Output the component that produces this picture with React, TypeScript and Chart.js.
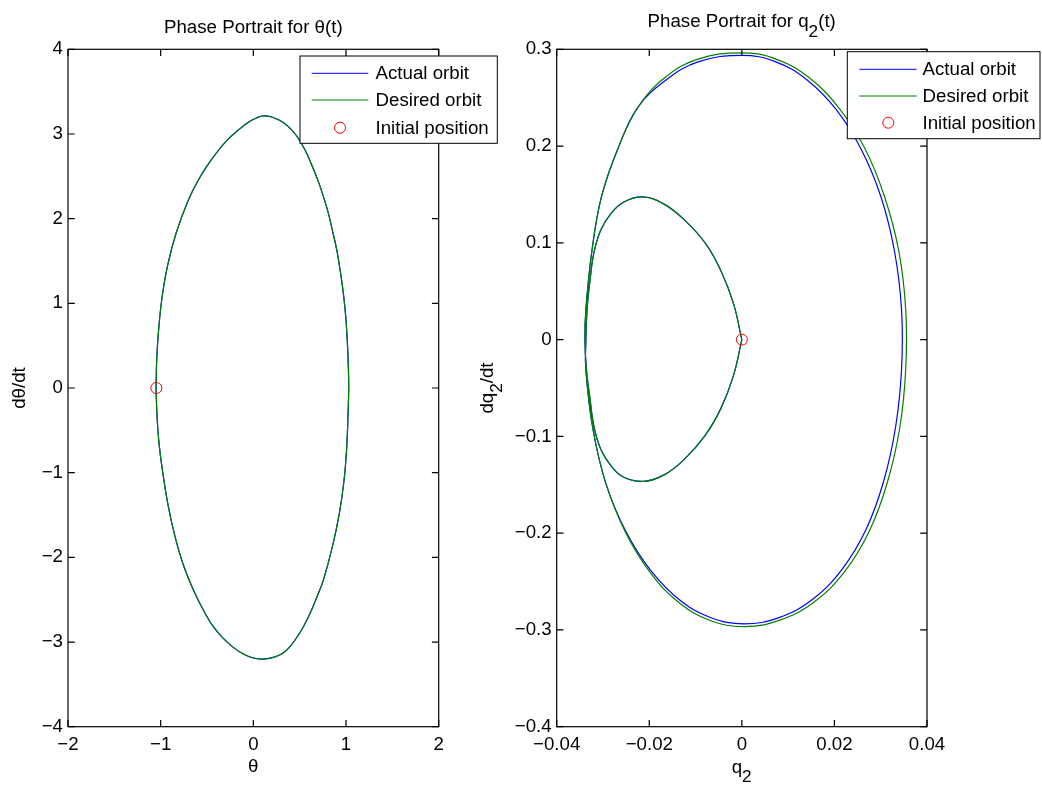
import React, { useEffect, useRef } from "react";
import { Chart, registerables } from "chart.js";

Chart.register(...registerables);

const FONT = '"Liberation Sans", Arial, Helvetica, sans-serif';
const W = 1042;
const H = 787;
const FS = 18.7;

// ---------- Left panel: theta ----------
const thetaTicksX = [-2, -1, 0, 1, 2];
const thetaTicksY = [-4, -3, -2, -1, 0, 1, 2, 3, 4];
// Actual and desired orbits coincide in this panel
const thetaOrbitX = [
  -1.05, -1.043, -1.025, -0.989, -0.928, -0.834, -0.701, -0.593, -0.505, -0.398,
  -0.285, -0.167, -0.057, 0.032, 0.101, 0.198, 0.288, 0.378, 0.468, 0.558,
  0.63, 0.702, 0.756, 0.81, 0.856, 0.9, 0.936, 0.971, 0.997, 1.015,
  1.025, 1.029, 1.022, 1.008, 0.979, 0.928, 0.853, 0.758, 0.69, 0.615,
  0.54, 0.45, 0.378, 0.306, 0.216, 0.101, 0.0, -0.108, -0.216, -0.324,
  -0.432, -0.54, -0.647, -0.755, -0.845, -0.917, -0.971, -1.014, -1.039, -1.05,
];
const thetaOrbitY = [
  0.0, 0.331, 0.646, 1.039, 1.433, 1.827, 2.22, 2.457, 2.615, 2.777,
  2.925, 3.041, 3.136, 3.189, 3.212, 3.201, 3.158, 3.087, 2.976, 2.811,
  2.634, 2.437, 2.26, 2.063, 1.847, 1.63, 1.394, 1.118, 0.842, 0.528,
  0.252, 0.0, -0.299, -0.693, -1.087, -1.48, -1.874, -2.26, -2.457, -2.655,
  -2.819, -2.976, -3.075, -3.142, -3.181, -3.201, -3.189, -3.142, -3.063, -2.957,
  -2.819, -2.622, -2.386, -2.091, -1.756, -1.402, -1.047, -0.693, -0.339, 0.0,
];
const thetaInit = { x: -1.047, y: 0 };

// ---------- Right panel: q2 ----------
const q2TicksX = [-0.04, -0.02, 0, 0.02, 0.04];
const q2TicksY = [-0.4, -0.3, -0.2, -0.1, 0, 0.1, 0.2, 0.3];

// inner loop, upper half: origin -> top -> left edge
const q2InnerUpperX = [0.0, -0.0018, -0.0045, -0.0079, -0.0127, -0.017, -0.0214, -0.0255, -0.0283, -0.0305, -0.032, -0.0328, -0.0334, -0.0337];
const q2InnerUpperY = [0.0, 0.0372, 0.071, 0.0997, 0.125, 0.1405, 0.1475, 0.1423, 0.1303, 0.113, 0.0889, 0.0613, 0.034, 0.0];
// inner loop, lower half: left edge -> bottom -> origin
const q2InnerLowerX = [-0.0336, -0.0328, -0.032, -0.0305, -0.0283, -0.0255, -0.0212, -0.0168, -0.0126, -0.008, -0.0045, -0.0018, 0.0];
const q2InnerLowerY = [-0.03, -0.0613, -0.0889, -0.113, -0.1303, -0.1423, -0.1465, -0.1398, -0.1245, -0.0995, -0.0708, -0.037, 0.0];

// outer loop (desired): left edge -> bottom -> right -> top -> left edge
const q2OuterDesiredX = [
  -0.0337, -0.0322, -0.0294, -0.0252, -0.0199, -0.0138, -0.007, 0.0005, 0.0082, 0.0157,
  0.0222, 0.0275, 0.0314, 0.0341, 0.0354, 0.0354, 0.0339, 0.0308, 0.0265, 0.0209,
  0.0145, 0.0074, 0.0, -0.0095, -0.0166, -0.0225, -0.0267, -0.0303, -0.0324, -0.0337,
  -0.0339,
];
const q2OuterDesiredY = [
  -0.031, -0.0916, -0.1483, -0.1984, -0.2399, -0.2709, -0.29, -0.2965, -0.2899, -0.2708,
  -0.2398, -0.1983, -0.1482, -0.0916, -0.031, 0.031, 0.0916, 0.1482, 0.1983, 0.2398,
  0.2708, 0.2899, 0.2964, 0.2899, 0.2708, 0.2398, 0.1983, 0.1482, 0.0916, 0.031,
  0.0,
];
// outer loop (actual): slightly inside the desired one on the right
const q2OuterActualX = [
  -0.0337, -0.0322, -0.0294, -0.0251, -0.0197, -0.0135, -0.0068, 0.0005, 0.008, 0.0153,
  0.0216, 0.0268, 0.0306, 0.0332, 0.0345, 0.0345, 0.033, 0.0301, 0.0258, 0.0204,
  0.0141, 0.0072, 0.0, -0.0093, -0.0163, -0.0225, -0.0267, -0.0303, -0.0324, -0.0337,
  -0.0339,
];
const q2OuterActualY = [
  -0.031, -0.0916, -0.1483, -0.1978, -0.2385, -0.2688, -0.2872, -0.2937, -0.2873, -0.2683,
  -0.2376, -0.1965, -0.1469, -0.0908, -0.0307, 0.0307, 0.0908, 0.1469, 0.1965, 0.2376,
  0.2683, 0.2873, 0.2937, 0.2873, 0.2685, 0.2398, 0.1983, 0.1482, 0.0916, 0.031,
  0.0,
];
const q2Init = { x: 0, y: 0 };

const legendLabels = ["Actual orbit", "Desired orbit", "Initial position"];
const seriesColors = ["#0000ff", "#008000", "#ff0000"];

type Pt = { x: number; y: number };
type Piece = { t: string; sub?: boolean };

const zip = (xs: number[], ys: number[]): Pt[] => xs.map((x, i) => ({ x, y: ys[i] }));

const fmt = (v: number) => {
  const r = Math.round(v * 10000) / 10000;
  if (r === 0) return "0";
  return String(r).replace("-", "\u2212");
};

function drawRich(ctx: CanvasRenderingContext2D, pieces: Piece[], cx: number, baseline: number, size: number) {
  const subSize = size * 0.92;
  let total = 0;
  const widths = pieces.map((p) => {
    ctx.font = `${p.sub ? subSize : size}px ${FONT}`;
    const w = ctx.measureText(p.t).width;
    total += w;
    return w;
  });
  let x = cx - total / 2;
  ctx.textAlign = "left";
  ctx.textBaseline = "alphabetic";
  pieces.forEach((p, i) => {
    ctx.font = `${p.sub ? subSize : size}px ${FONT}`;
    ctx.fillText(p.t, x, baseline + (p.sub ? size * 0.5 : 0));
    x += widths[i];
  });
}

type Decor = {
  title: Piece[];
  titleX: number;
  titleY: number;
  xlabel: Piece[];
  xlabelX: number;
  xlabelY: number;
  ylabel: Piece[];
  ylabelX: number;
  ylabelY: number;
  legend: { left: number; top: number; right: number; bottom: number; rows: number[]; lineX0: number; lineX1: number; markerX: number; textX: number };
};

function makeDecorPlugin(d: Decor) {
  return {
    id: "matlabDecor",
    afterDatasetsDraw(chart: any) {
      const { ctx, chartArea: a, scales } = chart;
      const xs = scales.x;
      const ys = scales.y;
      ctx.save();
      ctx.strokeStyle = "#000";
      ctx.lineWidth = 1.2;
      ctx.strokeRect(a.left, a.top, a.right - a.left, a.bottom - a.top);
      const L = 6.8;
      ctx.beginPath();
      xs.ticks.forEach((t: any) => {
        const px = xs.getPixelForValue(t.value);
        ctx.moveTo(px, a.bottom);
        ctx.lineTo(px, a.bottom - L);
        ctx.moveTo(px, a.top);
        ctx.lineTo(px, a.top + L);
      });
      ys.ticks.forEach((t: any) => {
        const py = ys.getPixelForValue(t.value);
        ctx.moveTo(a.left, py);
        ctx.lineTo(a.left + L, py);
        ctx.moveTo(a.right, py);
        ctx.lineTo(a.right - L, py);
      });
      ctx.stroke();

      ctx.fillStyle = "#000";
      drawRich(ctx, d.title, d.titleX, d.titleY, FS);
      drawRich(ctx, d.xlabel, d.xlabelX, d.xlabelY, FS);
      ctx.save();
      ctx.translate(d.ylabelX, d.ylabelY);
      ctx.rotate(-Math.PI / 2);
      drawRich(ctx, d.ylabel, 0, 0, FS);
      ctx.restore();

      const lg = d.legend;
      ctx.fillStyle = "#fff";
      ctx.fillRect(lg.left, lg.top, lg.right - lg.left, lg.bottom - lg.top);
      ctx.strokeStyle = "#000";
      ctx.lineWidth = 1;
      ctx.strokeRect(lg.left, lg.top, lg.right - lg.left, lg.bottom - lg.top);
      const ds = chart.data.datasets;
      ds.forEach((s: any, i: number) => {
        const y = lg.rows[i];
        ctx.strokeStyle = s.borderColor;
        ctx.lineWidth = 1;
        ctx.beginPath();
        if (s.showLine) {
          ctx.moveTo(lg.lineX0, y);
          ctx.lineTo(lg.lineX1, y);
        } else {
          ctx.arc(lg.markerX, y, s.pointRadius, 0, Math.PI * 2);
        }
        ctx.stroke();
        ctx.fillStyle = "#000";
        ctx.font = `${FS}px ${FONT}`;
        ctx.textAlign = "left";
        ctx.textBaseline = "middle";
        ctx.fillText(s.label, lg.textX, y + 1);
      });
      ctx.restore();
    },
  };
}

type Panel = {
  area: { left: number; top: number; right: number; bottom: number };
  xMin: number;
  xMax: number;
  yMin: number;
  yMax: number;
  xTicks: number[];
  yTicks: number[];
  actual: Pt[];
  desired: Pt[];
  init: Pt;
  decor: Decor;
};

function buildChart(canvas: HTMLCanvasElement, p: Panel) {
  const YW = 60;
  const XH = 40;
  const lineDs = (label: string, data: Pt[], color: string, order: number) => ({
    label,
    data,
    showLine: true,
    borderColor: color,
    borderWidth: 1.2,
    pointRadius: 0,
    tension: 0.4,
    fill: false,
    order,
  });
  return new Chart(canvas, {
    type: "scatter",
    data: {
      datasets: [
        lineDs(legendLabels[0], p.actual, seriesColors[0], 3),
        lineDs(legendLabels[1], p.desired, seriesColors[1], 2),
        {
          label: legendLabels[2],
          data: [p.init],
          showLine: false,
          borderColor: seriesColors[2],
          backgroundColor: "rgba(0,0,0,0)",
          borderWidth: 1,
          pointRadius: 5.5,
          pointStyle: "circle",
          order: 1,
        },
      ] as any,
    },
    options: {
      responsive: false,
      animation: false,
      events: [],
      devicePixelRatio: 1,
      layout: {
        padding: {
          left: p.area.left - YW,
          top: p.area.top,
          right: W - p.area.right,
          bottom: H - p.area.bottom - XH,
        },
      },
      plugins: { legend: { display: false }, tooltip: { enabled: false }, title: { display: false } },
      scales: {
        x: {
          type: "linear",
          position: "bottom",
          min: p.xMin,
          max: p.xMax,
          afterBuildTicks: (s: any) => {
            s.ticks = p.xTicks.map((v) => ({ value: v }));
          },
          afterFit: (s: any) => {
            s.height = XH;
          },
          ticks: {
            autoSkip: false,
            maxRotation: 0,
            padding: 7,
            color: "#000",
            font: { family: FONT, size: FS },
            callback: (v: any) => fmt(Number(v)),
          },
          grid: { display: false, drawTicks: false },
          border: { display: false },
        },
        y: {
          type: "linear",
          position: "left",
          min: p.yMin,
          max: p.yMax,
          afterBuildTicks: (s: any) => {
            s.ticks = p.yTicks.map((v) => ({ value: v }));
          },
          afterFit: (s: any) => {
            s.width = YW;
          },
          ticks: {
            autoSkip: false,
            padding: 5,
            color: "#000",
            font: { family: FONT, size: FS },
            callback: (v: any) => fmt(Number(v)),
          },
          grid: { display: false, drawTicks: false },
          border: { display: false },
        },
      },
    } as any,
    plugins: [makeDecorPlugin(p.decor)],
  });
}

const innerUpper = zip(q2InnerUpperX, q2InnerUpperY);
const innerLower = zip(q2InnerLowerX, q2InnerLowerY);

const leftPanel: Panel = {
  area: { left: 68, top: 49.3, right: 438.7, bottom: 726.7 },
  xMin: -2,
  xMax: 2,
  yMin: -4,
  yMax: 4,
  xTicks: thetaTicksX,
  yTicks: thetaTicksY,
  actual: zip(thetaOrbitX, thetaOrbitY),
  desired: zip(thetaOrbitX, thetaOrbitY),
  init: thetaInit,
  decor: {
    title: [{ t: "Phase Portrait for \u03b8(t)" }],
    titleX: 253.3,
    titleY: 33.3,
    xlabel: [{ t: "\u03b8" }],
    xlabelX: 253.3,
    xlabelY: 771.7,
    ylabel: [{ t: "d\u03b8/dt" }],
    ylabelX: 25,
    ylabelY: 388,
    legend: { left: 300, top: 56, right: 497.3, bottom: 143.3, rows: [73.3, 100, 127.7], lineX0: 311.7, lineX1: 368.3, markerX: 340, textX: 375.5 },
  },
};

const rightPanel: Panel = {
  area: { left: 556.7, top: 49.3, right: 927, bottom: 726.7 },
  xMin: -0.04,
  xMax: 0.04,
  yMin: -0.4,
  yMax: 0.3,
  xTicks: q2TicksX,
  yTicks: q2TicksY,
  actual: [...innerUpper, ...zip(q2OuterActualX, q2OuterActualY), ...innerLower],
  desired: [...innerUpper, ...zip(q2OuterDesiredX, q2OuterDesiredY), ...innerLower],
  init: q2Init,
  decor: {
    title: [{ t: "Phase Portrait for q" }, { t: "2", sub: true }, { t: "(t)" }],
    titleX: 741.7,
    titleY: 27.3,
    xlabel: [{ t: "q" }, { t: "2", sub: true }],
    xlabelX: 741.7,
    xlabelY: 772.7,
    ylabel: [{ t: "dq" }, { t: "2", sub: true }, { t: "/dt" }],
    ylabelX: 493,
    ylabelY: 388,
    legend: { left: 847.3, top: 51.7, right: 1040, bottom: 138.7, rows: [69.3, 96, 122.7], lineX0: 859.3, lineX1: 916.7, markerX: 888.3, textX: 922.5 },
  },
};

export default function App() {
  const leftRef = useRef<HTMLCanvasElement | null>(null);
  const rightRef = useRef<HTMLCanvasElement | null>(null);

  useEffect(() => {
    const c1 = buildChart(leftRef.current as HTMLCanvasElement, leftPanel);
    const c2 = buildChart(rightRef.current as HTMLCanvasElement, rightPanel);
    return () => {
      c1.destroy();
      c2.destroy();
    };
  }, []);

  const canvasStyle: React.CSSProperties = { position: "absolute", left: 0, top: 0, width: W, height: H, display: "block" };

  return (
    <div style={{ position: "absolute", left: 0, top: 0, width: W, height: H, background: "#fff", overflow: "hidden" }}>
      <canvas ref={leftRef} width={W} height={H} style={canvasStyle} />
      <canvas ref={rightRef} width={W} height={H} style={canvasStyle} />
    </div>
  );
}
